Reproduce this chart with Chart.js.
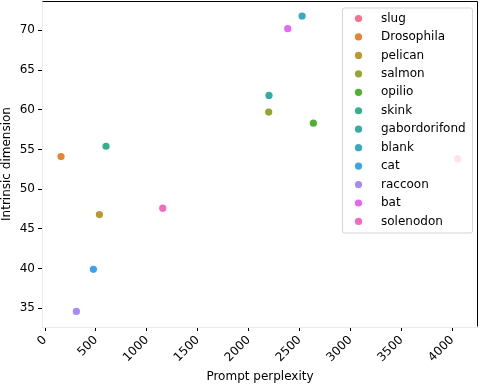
<!DOCTYPE html>
<html>
<head>
<meta charset="utf-8">
<script src="https://cdn.jsdelivr.net/npm/chart.js@4/dist/chart.umd.min.js"></script>
<style>
  html, body { margin: 0; padding: 0; background: #fff; }
</style>
</head>
<body>
<canvas id="scatter_canvas" width="480" height="384"></canvas>
<script>
// data
const species = ["slug", "Drosophila", "pelican", "salmon", "opilio", "skink",
                 "gabordorifond", "blank", "cat", "raccoon", "bat", "solenodon"];
const perplexity = [4054, 157, 534, 2197, 2636, 599, 2200, 2525, 475, 308, 2384, 1156];
const intrinsicDim = [53.8, 54.1, 46.8, 59.7, 58.3, 55.4, 61.8, 71.8, 39.9, 34.6, 70.2, 47.6];
const colors = ["#f77189", "#e58331", "#bb9832", "#97a431", "#50b131", "#34af8e",
                "#36ada4", "#38aabf", "#3ba3ec", "#a48cf4", "#e866f4", "#f668c2"];
const xTicks = [0, 500, 1000, 1500, 2000, 2500, 3000, 3500, 4000];
const yTicks = [35, 40, 45, 50, 55, 60, 65, 70];

const FONT = "DejaVu Sans";
const fontSize = 12;

const datasets = species.map((name, i) => ({
    label: name,
    data: [{x: perplexity[i], y: intrinsicDim[i]}],
    backgroundColor: colors[i],
    borderWidth: 0,
    pointRadius: 3.6,
    pointHoverRadius: 3.6
}));

// top and right spines (left/bottom come from the axes, light grey)
const frame = {
    id: "frame",
    afterDraw(chart) {
        const a = chart.chartArea, ctx = chart.ctx;
        const l = Math.round(a.left) + 0.5, t = Math.round(a.top) + 0.5;
        const r = Math.round(a.right) - 0.5, b = Math.round(a.bottom) - 0.5;
        ctx.save();
        ctx.strokeStyle = "#000";
        ctx.lineWidth = 1;
        ctx.beginPath();
        ctx.moveTo(l, t);
        ctx.lineTo(r, t);
        ctx.lineTo(r, b);
        ctx.stroke();
        ctx.restore();
    }
};

// matplotlib style legend in the upper right, semi transparent
const innerLegend = {
    id: "innerLegend",
    afterDatasetsDraw(chart) {
        const a = chart.chartArea, ctx = chart.ctx;
        const w = 130, h = 225;
        const x0 = a.right - 6 - w, y0 = a.top + 6.5;
        ctx.save();
        ctx.beginPath();
        ctx.roundRect(x0 + 0.5, y0 + 0.5, w, h, 2);
        ctx.fillStyle = "rgba(255,255,255,0.8)";
        ctx.fill();
        ctx.strokeStyle = "rgba(204,204,204,0.8)";
        ctx.lineWidth = 1;
        ctx.stroke();
        ctx.font = fontSize + "px '" + FONT + "'";
        ctx.textBaseline = "middle";
        ctx.textAlign = "left";
        chart.data.datasets.forEach((ds, i) => {
            const cy = y0 + 11 + i * 18.45;
            ctx.beginPath();
            ctx.arc(x0 + 16.5, cy, 3.6, 0, Math.PI * 2);
            ctx.fillStyle = ds.backgroundColor;
            ctx.fill();
            ctx.fillStyle = "#000";
            ctx.fillText(ds.label, x0 + 39, cy);
        });
        ctx.restore();
    }
};

const config = {
    type: "scatter",
    data: {datasets: datasets},
    options: {
        responsive: false,
        animation: false,
        layout: {autoPadding: false, padding: {top: 1, right: 2, left: 0, bottom: 0}},
        plugins: {legend: {display: false}, tooltip: {enabled: false}},
        scales: {
            x: {
                type: "linear",
                min: -30,
                max: 4253,
                afterBuildTicks: (s) => { s.ticks = xTicks.map(v => ({value: v})); },
                afterFit: (s) => { s.height = 57; s.paddingLeft = 0; s.paddingRight = 0; },
                grid: {drawOnChartArea: false, drawTicks: true, tickLength: 4, color: "#000"},
                border: {color: "#ebebeb"},
                ticks: {
                    color: "#000",
                    font: {family: FONT, size: fontSize},
                    minRotation: 45,
                    maxRotation: 45,
                    padding: 2,
                    callback: (v) => String(v)
                },
                title: {
                    display: true,
                    text: "Prompt perplexity",
                    color: "#000",
                    font: {family: FONT, size: fontSize},
                    padding: {top: 2, bottom: 0}
                }
            },
            y: {
                type: "linear",
                min: 32.64,
                max: 73.69,
                afterBuildTicks: (s) => { s.ticks = yTicks.map(v => ({value: v})); },
                afterFit: (s) => { s.width = 42; s.paddingTop = 0; s.paddingBottom = 0; },
                grid: {drawOnChartArea: false, drawTicks: true, tickLength: 4, color: "#000"},
                border: {color: "#ebebeb"},
                ticks: {
                    color: "#000",
                    font: {family: FONT, size: fontSize},
                    padding: 3,
                    callback: (v) => String(v)
                },
                title: {
                    display: true,
                    text: "Intrinsic dimension",
                    color: "#000",
                    font: {family: FONT, size: fontSize},
                    padding: {top: 0, bottom: 2}
                }
            }
        }
    },
    plugins: [innerLegend, frame]
};

new Chart(document.getElementById("scatter_canvas"), config);
</script>
</body>
</html>
